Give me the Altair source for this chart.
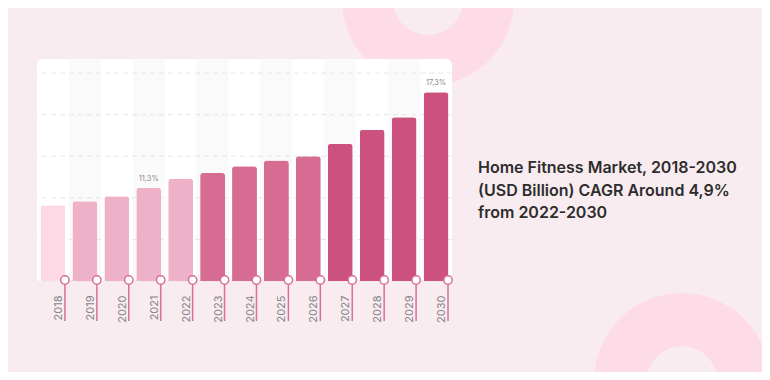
import altair as alt
import pandas as pd

# ---- data ----
years = ["2018", "2019", "2020", "2021", "2022", "2023", "2024",
         "2025", "2026", "2027", "2028", "2029", "2030"]
values = [9.1, 9.6, 10.2, 11.2, 12.3, 13.0, 13.8, 14.5, 15.0, 16.5, 18.2, 19.7, 22.7]
groups = ["a", "b", "b", "b", "b", "c", "c", "c", "c", "d", "d", "d", "d"]
group_names = ["a", "b", "c", "d"]
group_colors = ["#FDD9E5", "#EFB1C8", "#D76C93", "#CD517E"]
annot_years = ["2021", "2030"]
annot_texts = ["11,3%", "17,3%"]
shaded_years = ["2019", "2021", "2023", "2025", "2027", "2029"]
grid_values = [0, 5, 10, 15, 20, 25]
title_lines = ["Home Fitness Market, 2018-2030",
               "(USD Billion) CAGR Around 4,9%",
               "from 2022-2030"]

W, H = 415, 222
BG = "#F9ECF0"
RING = "#FDDCE7"
PINK = "#D96F97"

df = pd.DataFrame({"year": years, "value": values, "group": groups})
ann = df[df["year"].isin(annot_years)].copy()
ann["label"] = annot_texts
shade = pd.DataFrame({"year": shaded_years})
grid = pd.DataFrame({"v": grid_values})
one = pd.DataFrame({"k": [0]})

xs = alt.Scale(domain=years, paddingInner=0, paddingOuter=0)
ys = alt.Scale(domain=[0, 26.7], nice=False)
X = alt.X("year:N", scale=xs, title=None,
          axis=alt.Axis(domain=False, ticks=False, grid=False, labelAngle=270,
                        labelAlign="right", labelBaseline="middle",
                        labelPadding=14, labelOffset=6, labelFont="Inter",
                        labelFontSize=11, labelColor="#858585"))
XR = alt.X("year:N", scale=xs, title=None, bandPosition=0.875)

rings = alt.Chart(one).mark_arc(theta=0, theta2=6.2832, radius=86, radius2=35,
                                color=RING).encode(
    x=alt.value(391), y=alt.value(-59))
rings2 = alt.Chart(one).mark_arc(theta=0, theta2=6.2832, radius=88, radius2=35,
                                 color=RING).encode(
    x=alt.value(645), y=alt.value(322))

panel = alt.Chart(one).mark_rect(color="white", cornerRadiusTopLeft=6,
                                 cornerRadiusTopRight=6).encode(
    x=alt.value(0), x2=alt.value(W), y=alt.value(0), y2=alt.value(H))

bands = alt.Chart(shade).mark_rect(color="#FAFAFA").encode(
    x=X, y=alt.value(0), y2=alt.value(H))

gridr = alt.Chart(grid).mark_rule(color="#E6E6E6", strokeDash=[5, 4],
                                  strokeWidth=1).encode(
    y=alt.Y("v:Q", scale=ys, axis=None))

bars = alt.Chart(df).mark_bar(width=alt.RelativeBandSize(0.78),
                              cornerRadiusTopLeft=3, cornerRadiusTopRight=3).encode(
    x=X,
    y=alt.Y("value:Q", scale=ys, axis=None),
    color=alt.Color("group:N", scale=alt.Scale(domain=group_names,
                                               range=group_colors), legend=None))

labels = alt.Chart(ann).mark_text(font="Inter", fontSize=7.5, color="#8A8A8A",
                                  baseline="alphabetic", dy=-7).encode(
    x=X, y=alt.Y("value:Q", scale=ys, axis=None), text="label:N")

stems = alt.Chart(df).mark_rule(color=PINK, strokeWidth=1.5).encode(
    x=XR, y=alt.value(H), y2=alt.value(H + 40))

dots = alt.Chart(df).mark_point(shape="circle", filled=True, fill="white",
                                stroke=PINK, strokeWidth=1.5, size=70,
                                opacity=1).encode(
    x=XR, y=alt.value(H - 1))

title = alt.Chart(one).mark_text(text=title_lines, font="Inter", fontSize=16,
                                 fontWeight=600, color="#2D2D2D", align="left",
                                 baseline="alphabetic", lineHeight=22.5).encode(
    x=alt.value(441), y=alt.value(114))

chart = alt.layer(rings, rings2, panel, bands, gridr, bars, labels, stems, dots,
                  title).properties(
    width=W, height=H, background=BG,
    padding={"left": 29, "top": 51, "right": 310, "bottom": 91},
    autosize=alt.AutoSizeParams(type="none"),
).configure_view(stroke=None)

chart.save("out.html", embed_options={"renderer": "svg", "actions": False})
